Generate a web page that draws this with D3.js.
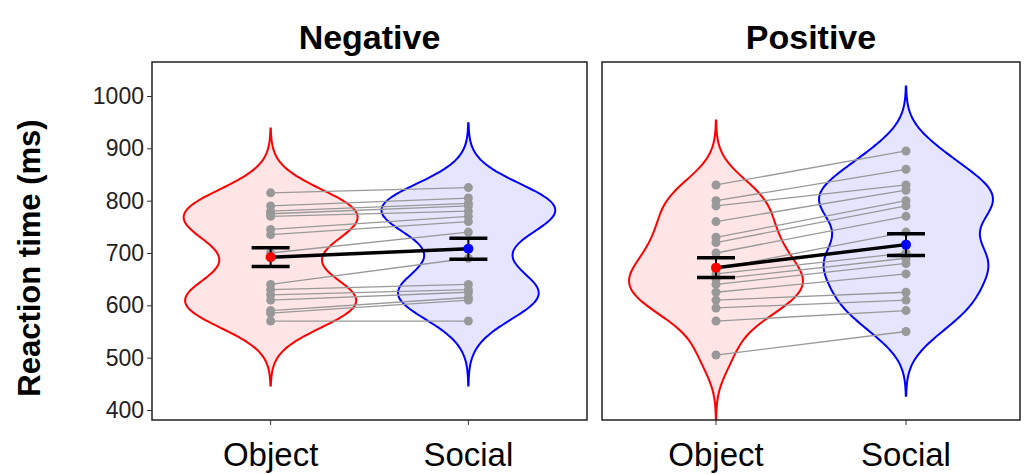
<!DOCTYPE html>
<html><head><meta charset="utf-8">
<script src="https://cdn.jsdelivr.net/npm/d3@7"></script>
<style>body{margin:0;background:#fff}text{font-family:Arial,"Liberation Sans",sans-serif}</style>
</head><body><svg id="c" width="1027" height="474"></svg>
<script>
// per-subject reaction times (ms), paired by index
const negObject = [815, 790, 780, 775, 770, 745, 735, 700, 640, 630, 620, 610, 590, 585, 570];
const negSocial = [825, 805, 795, 790, 780, 770, 760, 740, 690, 640, 630, 625, 615, 610, 570];
const posObject = [830, 800, 790, 760, 730, 720, 700, 670, 660, 650, 640, 625, 610, 595, 570, 505];
const posSocial = [895, 860, 830, 820, 800, 790, 770, 740, 700, 690, 680, 660, 625, 610, 590, 550];
const means = { Negative: [692, 708], Positive: [672, 716] };
const errs = { Negative: [18, 20], Positive: [19, 21] };
const categories = ["Object", "Social"];
const yTicks = [400, 500, 600, 700, 800, 900, 1000];

const svg = d3.select("#c");
const y = d3.scaleLinear().domain([400, 1000]).range([410, 96]);
const panels = [
  { name: "Negative", x0: 152, x1: 587, data: [negObject, negSocial] },
  { name: "Positive", x0: 602, x1: 1020, data: [posObject, posSocial] }
];
const cols = ["red", "blue"], fills = ["#ffe0e0", "#e0e0ff"];

function kde(vals, bw) {
  const lo = d3.min(vals) - 3 * bw, hi = d3.max(vals) + 3 * bw;
  const pts = d3.range(lo, hi + 0.1, (hi - lo) / 120);
  return pts.map(t => [t, d3.mean(vals, v => Math.exp(-0.5 * ((t - v) / bw) ** 2))]);
}

panels.forEach(p => {
  const g = svg.append("g");
  const x = d3.scalePoint().domain(categories).range([p.x0, p.x1]).padding(0.6);
  g.append("text").attr("x", (p.x0 + p.x1) / 2).attr("y", 49).attr("text-anchor", "middle")
    .attr("font-size", 34).attr("font-weight", "bold").text(p.name);
  p.data.forEach((vals, i) => {
    const d = kde(vals, 41);
    const w = d3.scaleLinear().domain([0, d3.max(d, e => e[1])]).range([0, 87]);
    const cx = x(categories[i]);
    const area = d3.area().y(e => y(e[0])).x0(e => cx - w(e[1])).x1(e => cx + w(e[1])).curve(d3.curveBasis);
    g.append("path").datum(d).attr("d", area).attr("fill", fills[i]).attr("fill-opacity", 0.85)
      .attr("stroke", cols[i]).attr("stroke-width", 2);
  });
  const [a, b] = p.data;
  const xa = x("Object"), xb = x("Social");
  a.forEach((v, i) => {
    g.append("line").attr("x1", xa).attr("x2", xb).attr("y1", y(v)).attr("y2", y(b[i]))
      .attr("stroke", "#999").attr("stroke-width", 1.3);
  });
  p.data.forEach((vals, i) => {
    g.selectAll(null).data(vals).join("circle").attr("cx", x(categories[i])).attr("cy", v => y(v))
      .attr("r", 4.5).attr("fill", "#999");
  });
  const m = means[p.name], e = errs[p.name];
  g.append("line").attr("x1", xa).attr("x2", xb).attr("y1", y(m[0])).attr("y2", y(m[1]))
    .attr("stroke", "black").attr("stroke-width", 3.5);
  m.forEach((mv, i) => {
    const cx = x(categories[i]);
    g.append("line").attr("x1", cx).attr("x2", cx).attr("y1", y(mv - e[i])).attr("y2", y(mv + e[i])).attr("stroke", "black").attr("stroke-width", 2);
    [mv - e[i], mv + e[i]].forEach(t => g.append("line").attr("x1", cx - 19).attr("x2", cx + 19)
      .attr("y1", y(t)).attr("y2", y(t)).attr("stroke", "black").attr("stroke-width", 3.5));
    g.append("circle").attr("cx", cx).attr("cy", y(mv)).attr("r", 5).attr("fill", cols[i]);
  });
  g.append("rect").attr("x", p.x0).attr("y", 62).attr("width", p.x1 - p.x0).attr("height", 358)
    .attr("fill", "none").attr("stroke", "#222").attr("stroke-width", 1.5);
  categories.forEach(c => {
    g.append("line").attr("x1", x(c)).attr("x2", x(c)).attr("y1", 420).attr("y2", 425).attr("stroke", "#333");
    g.append("text").attr("x", x(c)).attr("y", 466).attr("text-anchor", "middle").attr("font-size", 33).text(c);
  });
});

svg.append("g").attr("transform", "translate(152,0)")
  .call(d3.axisLeft(y).tickValues(yTicks).tickSize(5).tickFormat(d3.format("d")))
  .call(a => a.select(".domain").remove())
  .call(a => a.selectAll("text").attr("font-size", 23).attr("fill", "#222").attr("font-family", "Arial, Liberation Sans"))
  .call(a => a.selectAll("line").attr("stroke", "#333"));
svg.append("text").attr("transform", "translate(40,258) rotate(-90)").attr("text-anchor", "middle")
  .attr("font-size", 31).attr("font-weight", "bold").text("Reaction time (ms)");
</script></body></html>
